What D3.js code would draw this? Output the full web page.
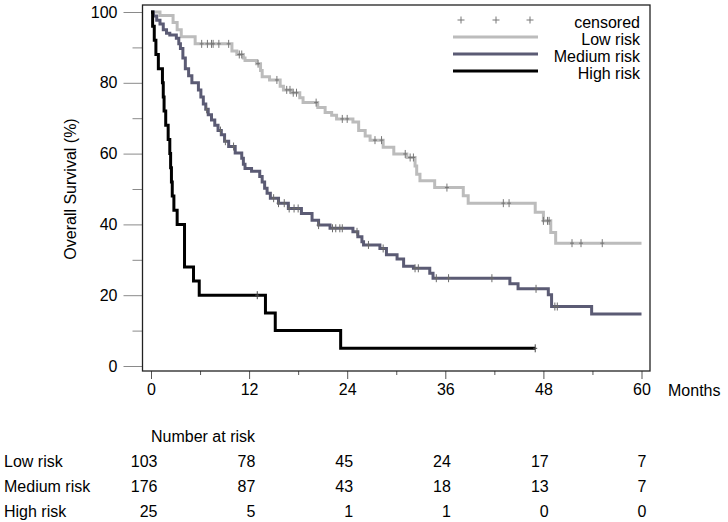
<!DOCTYPE html>
<html>
<head>
<meta charset="utf-8">
<script src="https://cdn.jsdelivr.net/npm/d3@7"></script>
<style>
  body { margin: 0; background: #fff; }
  svg text { font-family: "Liberation Sans", Arial, sans-serif; font-size: 16px; fill: #000; }
</style>
</head>
<body>
<div id="chart"></div>
<script>
// survival steps [month, % surviving]
const lowSteps = [[0,100],[1.1,99],[2.7,97],[3.2,95],[3.7,93],[5.4,91],[9.9,89],[10.5,88],[11.3,87],[11.5,86.3],
  [12.9,85.4],[13.4,83.5],[13.6,81.7],[14.5,80.8],[15.8,79],[16.2,78],[17.2,77.2],[18.2,75.8],[18.6,74.4],
  [20.4,73],[21.3,71.6],[22.1,70.8],[22.7,69.8],[24.7,68.9],[25.4,66.5],[26.2,65],[26.8,63.8],[28.4,61.8],
  [29.7,59.9],[31.3,58.9],[32.3,56.5],[32.5,54.2],[32.9,52.3],[34.7,50.4],[38.2,48.1],[38.8,46],
  [47.0,43.4],[48.0,41],[48.9,37.7],[49.5,34.7]];
const mediumSteps = [[0,100],[0.3,98.9],[0.7,97.7],[1.1,96.6],[1.5,95],[1.9,94],[2.3,93.5],[3.1,92.6],[3.4,91],
  [3.6,89.7],[3.9,87],[4.2,84],[4.6,82],[5.0,80],[5.8,78],[6.1,76],[6.4,74],[6.7,72.5],[7.0,71],[7.4,69.5],
  [7.8,68],[8.2,66.5],[8.6,65.3],[9.0,63.5],[9.5,62],[10.3,60.2],[11.1,58.7],[11.3,57],[11.5,55.8],[12.3,55],
  [13.3,53.5],[13.6,52],[13.9,50.2],[14.2,48.8],[14.6,47.4],[15.6,46],[16.8,44.5],[18.4,43.1],[19.7,41.2],
  [20.5,39.8],[21.9,38.9],[24.7,37.9],[25.3,36.5],[25.8,35.1],[26.0,34.2],[28.0,33.2],[28.8,31.4],[30.1,30.2],
  [30.9,28.2],[32.1,27.6],[34.1,26.2],[34.5,24.8],[43.9,23.2],[44.9,21.8],[48.6,20.1],[49.0,16.8],[53.9,14.7]];
const highSteps = [[0,100],[0.2,96],[0.4,92],[0.6,88],[0.9,84],[1.4,80],[1.5,76],[1.6,72],[1.8,68],[2.1,64],
  [2.3,60],[2.4,56],[2.5,52],[2.6,48],[2.8,44],[3.2,40],[4.1,28],[5.2,24],[5.9,20],[14.0,15],[15.2,10],[23.2,5]];

// censored times (months)
const lowCensor = [6.2,6.9,7.4,7.6,8.3,9.5,10.8,11.1,13.1,15.4,16.6,17.0,17.4,17.8,20.2,23.4,24.0,27.4,28.2,
  31.1,31.7,32.1,36.2,43.1,43.8,48.0,48.5,48.7,51.5,52.6,55.2];
const mediumCensor = [6.8,8.5,9.1,10.1,15.0,15.6,16.3,16.9,17.5,18.0,20.5,22.2,22.6,23.1,23.4,25.2,26.6,28.4,
  32.3,32.7,34.9,36.4,41.7,47.1,49.4,49.7];
const highCensor = [13.0, 47.0];

const groupNames = ['Low risk', 'Medium risk', 'High risk'];
const groupColors = ['#bcbcbc', '#5b5b74', '#000000'];
const censorColors = ['#777', '#6a6a6a', '#444'];
const lastTime = [60, 60, 47];

// number at risk table
const riskMonths = [0, 12, 24, 36, 48, 60];
const lowAtRisk = [103, 78, 45, 24, 17, 7];
const mediumAtRisk = [176, 87, 43, 18, 13, 7];
const highAtRisk = [25, 5, 1, 1, 0, 0];

const yMajor = [0, 20, 40, 60, 80, 100];
const yMinor = [10, 30, 50, 70, 90];
const xMajor = [0, 12, 24, 36, 48, 60];
const xMinor = [6, 18, 30, 42, 54];

const W = 728, H = 522;
const frame = {left: 142.5, right: 650, top: 5, bottom: 371};

const svg = d3.select('#chart').append('svg')
    .attr('width', W)
    .attr('height', H);

const x = d3.scaleLinear().domain([0, 60]).range([151, 641.5]);
const y = d3.scaleLinear().domain([0, 100]).range([366, 12]);

//************** AXES ******************//
let yAxisMajor = svg.append('g')
    .attr('transform', `translate(${frame.left},0)`)
    .call(d3.axisLeft(y).tickValues(yMajor).tickSize(19).tickPadding(6));
let yAxisMinor = svg.append('g')
    .attr('transform', `translate(${frame.left},0)`)
    .call(d3.axisLeft(y).tickValues(yMinor).tickSize(10).tickFormat(''));
[yAxisMajor, yAxisMinor].forEach(g => {
    g.select('.domain').remove();
    g.selectAll('line').attr('stroke', '#8a8a8a');
    g.selectAll('text').attr('font-size', null).attr('font-family', null);
});

let xAxisMajor = svg.append('g')
    .attr('transform', `translate(0,${frame.bottom})`)
    .call(d3.axisBottom(x).tickValues(xMajor).tickSize(8).tickPadding(5));
let xAxisMinor = svg.append('g')
    .attr('transform', `translate(0,${frame.bottom})`)
    .call(d3.axisBottom(x).tickValues(xMinor).tickSize(4).tickFormat(''));
[xAxisMajor, xAxisMinor].forEach(g => {
    g.select('.domain').remove();
    g.selectAll('line').attr('stroke', '#555');
    g.selectAll('text').attr('font-size', null).attr('font-family', null);
});

svg.append('text')
    .attr('x', 668)
    .attr('y', 396)
    .text('Months');

svg.append('text')
    .attr('transform', `translate(76,${(y(0) + y(100)) / 2}) rotate(-90)`)
    .attr('text-anchor', 'middle')
    .text('Overall Survival (%)');

// plot frame
svg.append('rect')
    .attr('x', frame.left)
    .attr('y', frame.top)
    .attr('width', frame.right - frame.left)
    .attr('height', frame.bottom - frame.top)
    .attr('fill', 'none')
    .attr('stroke', '#222')
    .attr('stroke-width', 1.3);

//************* CURVES *************//
const stepLine = d3.line()
    .x(d => x(d[0]))
    .y(d => y(d[1]))
    .curve(d3.curveStepAfter);

// survival value at time t
let survAt = (steps, t) => {
    let s = steps[0][1];
    steps.forEach(d => { if (d[0] <= t) s = d[1]; });
    return s;
};

const allSteps = [lowSteps, mediumSteps, highSteps];
const allCensor = [lowCensor, mediumCensor, highCensor];

allSteps.forEach((steps, i) => {
    let pts = steps.concat([[lastTime[i], steps[steps.length - 1][1]]]);
    svg.append('path')
        .datum(pts)
        .attr('d', stepLine)
        .attr('fill', 'none')
        .attr('stroke', groupColors[i])
        .attr('stroke-width', 3);
});

allCensor.forEach((times, i) => {
    let g = svg.append('g');
    g.selectAll('path')
        .data(times)
        .enter()
        .append('path')
        .attr('d', t => {
            let cx = x(t), cy = y(survAt(allSteps[i], t));
            return `M${cx},${cy - 4}V${cy + 4}M${cx - 2},${cy}H${cx + 2}`;
        })
        .attr('stroke', censorColors[i])
        .attr('stroke-width', 1)
        .attr('fill', 'none');
});

//************* LEGEND *************//
const legend = svg.append('g');
[461, 496, 530].forEach(px => {
    legend.append('path')
        .attr('d', `M${px},16.5V23.5M${px - 3.5},20H${px + 3.5}`)
        .attr('stroke', '#777')
        .attr('stroke-width', 1);
});
legend.append('text')
    .attr('x', 640).attr('y', 28)
    .attr('text-anchor', 'end')
    .text('censored');

groupNames.forEach((name, i) => {
    let ly = 37 + i * 17;
    legend.append('line')
        .attr('x1', 453).attr('x2', 538)
        .attr('y1', ly).attr('y2', ly)
        .attr('stroke', groupColors[i])
        .attr('stroke-width', 3);
    legend.append('text')
        .attr('x', 640).attr('y', ly + 8)
        .attr('text-anchor', 'end')
        .text(name);
});

//************* NUMBER AT RISK *************//
const col = d3.scaleLinear().domain([0, 60]).range([157.5, 646.5]);
const rowY = [467, 492, 517];

svg.append('text')
    .attr('x', 151)
    .attr('y', 442)
    .text('Number at risk');

[lowAtRisk, mediumAtRisk, highAtRisk].forEach((vals, i) => {
    svg.append('text')
        .attr('x', 4)
        .attr('y', rowY[i])
        .text(groupNames[i]);
    svg.append('g').selectAll('text')
        .data(vals)
        .enter()
        .append('text')
        .attr('x', (d, j) => col(riskMonths[j]))
        .attr('y', rowY[i])
        .attr('text-anchor', 'end')
        .text(d => d);
});
</script>
</body>
</html>
